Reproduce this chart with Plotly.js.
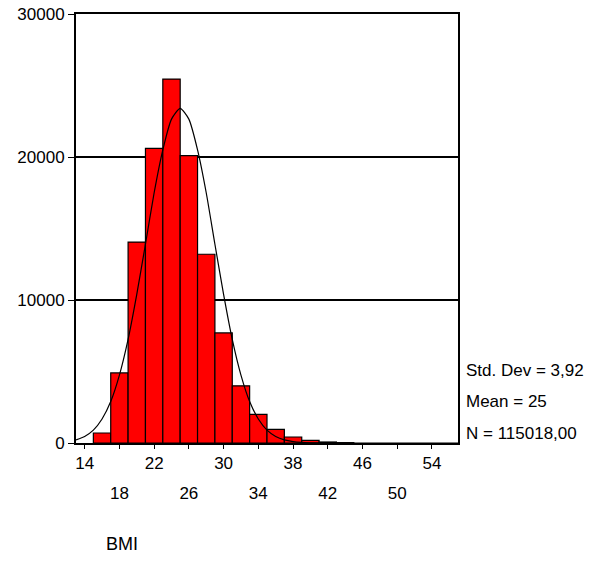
<!DOCTYPE html>
<html>
<head>
<meta charset="utf-8">
<script src="https://cdn.plot.ly/plotly-3.0.1.min.js"></script>
<style>html,body{margin:0;padding:0;background:#fff;}#chart{width:605px;height:563px;}</style>
</head>
<body>
<div id="chart"></div>
<script>
// BMI histogram (bin width 2), bin centres and counts
const binCenters = [16, 18, 20, 22, 24, 26, 28, 30, 32, 34, 36, 38, 40, 42, 44];
const binCounts  = [700, 4900, 14050, 20600, 25450, 20100, 13200, 7700, 4000, 2000, 950, 420, 180, 70, 25];

// fitted normal curve
const curveX = [13, 14, 15, 16, 17, 18, 19, 20, 21, 22, 23, 24, 25, 26, 27, 28, 29, 30, 31, 32, 33, 34, 35, 36, 37, 38, 39, 40, 41, 42, 57];
const curveY = [220, 460, 900, 1680, 2900, 4750, 7250, 10400, 13900, 17500, 20500, 22650, 23400, 22650, 20500, 17500, 13900, 10400, 7250, 4750, 2900, 1680, 900, 460, 220, 100, 40, 15, 5, 0, 0];

const tickRow1 = [14, 22, 30, 38, 46, 54];
const tickRow2 = [18, 26, 34, 42, 50];
const yTicks = [0, 10000, 20000, 30000];
const statsLines = ["Std. Dev = 3,92", "Mean = 25", "N = 115018,00"];
const xLabel = "BMI";

const FONT = "Arial, 'Liberation Sans', sans-serif";
const allTicks = tickRow1.concat(tickRow2).sort((a, b) => a - b);

const traces = [
  {
    type: 'bar', x: binCenters, y: binCounts, width: 2,
    marker: {color: '#ff0000', line: {color: '#000000', width: 1.2}},
    hoverinfo: 'skip', showlegend: false
  },
  {
    type: 'scatter', mode: 'lines', x: curveX, y: curveY,
    line: {color: '#000000', width: 1.2, shape: 'spline', smoothing: 0.6},
    hoverinfo: 'skip', showlegend: false
  },
  { type: 'scatter', x: [], y: [], xaxis: 'x2', yaxis: 'y', showlegend: false, hoverinfo: 'skip' }
];

const layout = {
  width: 605, height: 563,
  margin: {l: 76, r: 147, t: 14, b: 120},
  paper_bgcolor: '#ffffff', plot_bgcolor: '#ffffff',
  font: {family: FONT, size: 17, color: '#000000'},
  bargap: 0,
  showlegend: false,
  xaxis: {
    range: [13, 57], showgrid: false, zeroline: false,
    showline: true, linecolor: '#000', linewidth: 2, mirror: true,
    ticks: 'outside', ticklen: 4, tickcolor: '#000', tickwidth: 1,
    tickmode: 'array', tickvals: allTicks,
    ticktext: allTicks.map(v => tickRow1.includes(v) ? String(v) : ''),
    tickfont: {family: FONT, size: 17, color: '#000'}
  },
  xaxis2: {
    overlaying: 'x', anchor: 'y', side: 'bottom', range: [13, 57],
    showgrid: false, zeroline: false, showline: false, ticks: '',
    tickmode: 'array', tickvals: tickRow2, ticktext: tickRow2.map(String),
    ticklabelstandoff: 38,
    tickfont: {family: FONT, size: 17, color: '#000'}
  },
  yaxis: {
    range: [0, 30000], zeroline: false,
    showgrid: true, gridcolor: '#000', gridwidth: 1.2,
    showline: true, linecolor: '#000', linewidth: 2, mirror: true,
    ticks: 'outside', ticklen: 6, tickcolor: '#000', tickwidth: 1,
    tickmode: 'array', tickvals: yTicks, ticktext: yTicks.map(String),
    tickfont: {family: FONT, size: 17, color: '#000'}
  },
  annotations: statsLines.map((t, i) => ({
    text: t, xref: 'paper', yref: 'paper', x: 1, xshift: 6,
    y: [0.17, 0.096, 0.023][i], xanchor: 'left', yanchor: 'middle',
    showarrow: false, font: {family: FONT, size: 17, color: '#000'}
  })).concat([{
    text: xLabel, xref: 'paper', yref: 'paper', x: 0, xshift: 28, y: -0.235,
    xanchor: 'left', yanchor: 'middle', showarrow: false,
    font: {family: FONT, size: 18, color: '#000'}
  }])
};

Plotly.newPlot('chart', traces, layout, {staticPlot: true, displayModeBar: false});
</script>
</body>
</html>
